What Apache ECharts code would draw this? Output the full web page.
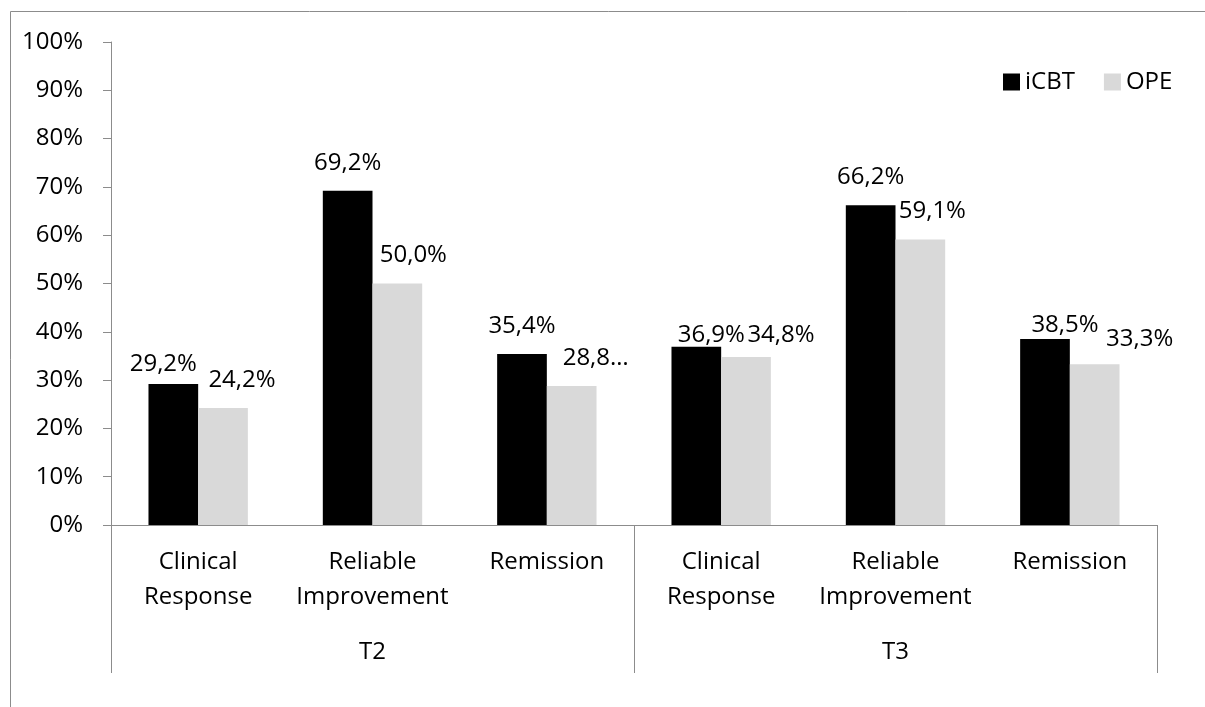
<!DOCTYPE html>
<html>
<head>
<meta charset="utf-8">
<script src="https://cdn.jsdelivr.net/npm/echarts@6/dist/echarts.min.js"></script>
<style>
  html, body { margin: 0; padding: 0; background: #ffffff; }
  #chart { width: 1205px; height: 707px; }
</style>
</head>
<body>
<div id="chart"></div>
<script>
// Outcome measures at each time point, two treatment arms (percent of participants)
const timePoints = ['T2', 'T3'];
const measures = ['Clinical\nResponse', 'Reliable\nImprovement', 'Remission'];
const seriesNames = ['iCBT', 'OPE'];
const icbtValues = [29.2, 69.2, 35.4, 36.9, 66.2, 38.5];
const opeValues = [24.2, 50.0, 28.8, 34.8, 59.1, 33.3];
const yMin = 0, yMax = 100, yStep = 10;

// Hand-placed label nudges [dx, dy] in pixels
const icbtLabelShift = [[-10, 8], [0, 0], [0, 0], [15, 16], [0, 0], [20, 14]];
const opeLabelShift = [[19, 0], [16, 0], [24, 0], [35, 6], [12, 0], [45, 3]];
// Labels cut short by the layout
const opeShortLabel = [false, false, true, false, false, false];

const FONT = '"Open Sans", "Noto Sans", sans-serif';
const AXIS_GRAY = '#8c8c8c';

const categories = [];
timePoints.forEach(() => measures.forEach(m => categories.push(m)));

const fmt = v => v.toFixed(1).replace('.', ',') + '%';

function toItems(values, shifts, short) {
  return values.map((v, i) => {
    const item = { value: v, label: { offset: shifts[i] } };
    if (short && short[i]) {
      item.label.formatter = p => fmt(p.value).slice(0, 4) + '\u2026';
    }
    return item;
  });
}

const labelStyle = {
  show: true,
  position: 'top',
  distance: 16,
  color: '#000000',
  fontFamily: FONT,
  fontSize: 24,
  formatter: p => fmt(p.value)
};

const chart = echarts.init(document.getElementById('chart'), null, { renderer: 'canvas' });

chart.setOption({
  animation: false,
  backgroundColor: '#ffffff',
  textStyle: { fontFamily: FONT },
  graphic: [{
    type: 'rect',
    shape: { x: 10.5, y: 11.5, width: 1400, height: 1000 },
    style: { fill: 'none', stroke: AXIS_GRAY, lineWidth: 1 },
    silent: true
  }],
  legend: {
    data: seriesNames,
    left: 998,
    top: 65,
    itemWidth: 17,
    itemHeight: 17,
    itemGap: 29,
    icon: 'rect',
    textStyle: { fontFamily: FONT, fontSize: 24, color: '#000000' }
  },
  grid: { left: 111, right: 48, top: 42, bottom: 182, containLabel: false },
  xAxis: [
    {
      type: 'category',
      data: categories,
      position: 'bottom',
      axisLine: { show: true, lineStyle: { color: AXIS_GRAY, width: 1 } },
      axisTick: { show: false },
      axisLabel: {
        interval: 0,
        margin: 20,
        color: '#000000',
        fontFamily: FONT,
        fontSize: 24,
        lineHeight: 35,
        align: 'center'
      }
    },
    {
      type: 'category',
      data: timePoints,
      position: 'bottom',
      axisLine: { show: false },
      axisTick: {
        show: true,
        interval: 0,
        length: 148,
        lineStyle: { color: AXIS_GRAY, width: 1 }
      },
      axisLabel: {
        interval: 0,
        margin: 115,
        color: '#000000',
        fontFamily: FONT,
        fontSize: 24
      }
    }
  ],
  yAxis: {
    type: 'value',
    min: yMin,
    max: yMax,
    interval: yStep,
    axisLine: { show: true, lineStyle: { color: AXIS_GRAY, width: 1 } },
    axisTick: { show: true, length: 8, lineStyle: { color: AXIS_GRAY, width: 1 } },
    splitLine: { show: false },
    axisLabel: {
      margin: 28,
      color: '#000000',
      fontFamily: FONT,
      fontSize: 24,
      formatter: '{value}%'
    }
  },
  series: [
    {
      name: seriesNames[0],
      type: 'bar',
      xAxisIndex: 0,
      barGap: '0%',
      barCategoryGap: '43%',
      itemStyle: { color: '#000000' },
      label: labelStyle,
      data: toItems(icbtValues, icbtLabelShift, null)
    },
    {
      name: seriesNames[1],
      type: 'bar',
      xAxisIndex: 0,
      barGap: '0%',
      barCategoryGap: '43%',
      itemStyle: { color: '#d9d9d9' },
      label: labelStyle,
      data: toItems(opeValues, opeLabelShift, opeShortLabel)
    }
  ]
});
</script>
</body>
</html>
